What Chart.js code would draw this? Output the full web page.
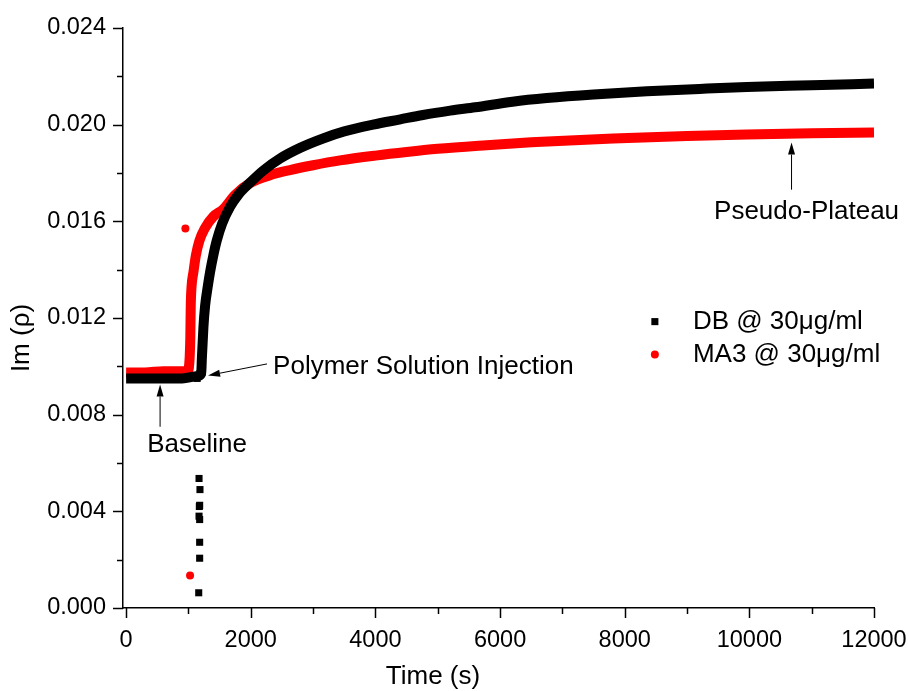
<!DOCTYPE html>
<html>
<head>
<meta charset="utf-8">
<script src="https://cdn.jsdelivr.net/npm/chart.js@4/dist/chart.umd.min.js"></script>
<style>
  html, body { margin: 0; padding: 0; background: #fff; }
  #wrap { width: 909px; height: 691px; position: relative; }
</style>
</head>
<body>
<div id="wrap"><canvas id="canvas" width="909" height="691"></canvas></div>
<script>
// values
var dbTime = [0, 300, 600, 900, 1150, 1205, 1215, 1240, 1267, 1310, 1347, 1400, 1454, 1540, 1668, 1800, 1989, 2200, 2470, 2800, 3160, 3500, 3961, 4400, 4763, 5200, 5600, 6200, 6750, 7500, 8356, 9200, 9960, 11000, 12000]
var dbIm = [0.0095, 0.0095, 0.0095, 0.0095, 0.0096, 0.0097, 0.0103, 0.0116, 0.0125, 0.0133, 0.0139, 0.0146, 0.0152, 0.0159, 0.0166, 0.0171, 0.0176, 0.0181, 0.0186, 0.01905, 0.01943, 0.01972, 0.0200, 0.02022, 0.0204, 0.02058, 0.02072, 0.02095, 0.0211, 0.02125, 0.02138, 0.02148, 0.02156, 0.02163, 0.0217]
var dbOutTime = [1140, 1185, 1170, 1185, 1180, 1175, 1170, 1180, 1180, 1180, 1165]
var dbOutIm = [0.0095, 0.0097, 0.00536, 0.0049, 0.00425, 0.0042, 0.0038, 0.00366, 0.00272, 0.00206, 0.00063]

var maTime = [0, 300, 600, 900, 990, 1005, 1020, 1030, 1037, 1050, 1080, 1120, 1176, 1260, 1400, 1556, 1750, 2000, 2300, 2630, 3000, 3432, 4000, 4500, 5000, 5785, 6500, 7813, 9000, 9960, 11000, 12000]
var maIm = [0.00975, 0.00975, 0.0098, 0.0098, 0.0098, 0.0099, 0.0104, 0.0112, 0.0125, 0.0133, 0.0139, 0.0146, 0.0152, 0.0157, 0.0162, 0.0165, 0.0171, 0.0176, 0.0179, 0.01812, 0.01832, 0.01852, 0.01872, 0.01887, 0.019, 0.01915, 0.01927, 0.01943, 0.01953, 0.01959, 0.01964, 0.01968]
var maOutTime = [951, 1026, 1026]
var maOutIm = [0.0157, 0.0102, 0.00134]

var seriesNames = ['DB @ 30\u03bcg/ml', 'MA3 @ 30\u03bcg/ml']
var xTicks = [0, 2000, 4000, 6000, 8000, 10000, 12000]
var yTicks = [0.000, 0.004, 0.008, 0.012, 0.016, 0.020, 0.024]

function pts(xs, ys){
  var out = []
  for (var i = 0; i < xs.length; i++) out.push({x: xs[i], y: ys[i]})
  return out
}

var FONT = 'Arial, "Liberation Sans", sans-serif'

function arrow(ctx, x1, y1, x2, y2){
  // line from (x1,y1) to tip (x2,y2)
  var a = Math.atan2(y2 - y1, x2 - x1)
  var len = 12, w = 3.5
  ctx.beginPath()
  ctx.moveTo(x1, y1)
  ctx.lineTo(x2 - len * Math.cos(a), y2 - len * Math.sin(a))
  ctx.stroke()
  ctx.beginPath()
  ctx.moveTo(x2, y2)
  ctx.lineTo(x2 - len * Math.cos(a) + w * Math.sin(a), y2 - len * Math.sin(a) - w * Math.cos(a))
  ctx.lineTo(x2 - len * Math.cos(a) - w * Math.sin(a), y2 - len * Math.sin(a) + w * Math.cos(a))
  ctx.closePath()
  ctx.fill()
}

var decor = {
  id: 'decor',
  afterDraw: function(chart){
    var ctx = chart.ctx, xs = chart.scales.x, ys = chart.scales.y, ca = chart.chartArea
    ctx.save()
    ctx.strokeStyle = '#000'
    ctx.fillStyle = '#000'
    ctx.lineWidth = 1.5
    // ticks: major + minor
    for (var v = 0; v <= 12000; v += 1000) {
      var px = Math.round(xs.getPixelForValue(v)) + 0.5
      ctx.beginPath(); ctx.moveTo(px, ca.bottom); ctx.lineTo(px, ca.bottom + (v % 2000 === 0 ? 10 : 6)); ctx.stroke()
    }
    for (var k = 0; k <= 12; k++) {
      var py = Math.round(ys.getPixelForValue(k * 0.002)) + 0.5
      ctx.beginPath(); ctx.moveTo(ca.left, py); ctx.lineTo(ca.left - (k % 2 === 0 ? 10 : 6), py); ctx.stroke()
    }

    // axis titles
    ctx.font = '26px ' + FONT
    ctx.textAlign = 'center'
    ctx.textBaseline = 'middle'
    ctx.fillText('Time (s)', 433, 677)
    ctx.save()
    ctx.translate(22, 338)
    ctx.rotate(-Math.PI / 2)
    ctx.fillText('Im (\u03c1)', 0, 0)
    ctx.restore()

    // annotations
    ctx.lineWidth = 1
    ctx.font = '26px ' + FONT
    arrow(ctx, xs.getPixelForValue(2261), ys.getPixelForValue(0.0101), xs.getPixelForValue(1315), ys.getPixelForValue(0.00962))
    ctx.textAlign = 'left'
    ctx.fillText('Polymer Solution Injection', xs.getPixelForValue(2358), ys.getPixelForValue(0.00999))
    arrow(ctx, xs.getPixelForValue(545), ys.getPixelForValue(0.0075), xs.getPixelForValue(545), ys.getPixelForValue(0.00925))
    ctx.textAlign = 'center'
    ctx.fillText('Baseline', xs.getPixelForValue(1139), ys.getPixelForValue(0.00676))
    arrow(ctx, xs.getPixelForValue(10677), ys.getPixelForValue(0.01731), xs.getPixelForValue(10677), ys.getPixelForValue(0.01926))
    ctx.fillText('Pseudo-Plateau', xs.getPixelForValue(10918), ys.getPixelForValue(0.01641))

    // legend
    ctx.textAlign = 'left'
    var lx = xs.getPixelForValue(8484), tx = xs.getPixelForValue(9094)
    var ly1 = ys.getPixelForValue(0.01185), ly2 = ys.getPixelForValue(0.01049)
    Chart.helpers.drawPoint(ctx, {pointStyle: 'rect', radius: 5, borderWidth: 0, rotation: 0}, lx, ly1)
    ctx.fillText(seriesNames[0], tx, ly1)
    ctx.fillStyle = '#ff0000'
    Chart.helpers.drawPoint(ctx, {pointStyle: 'circle', radius: 4, borderWidth: 0, rotation: 0}, lx, ly2)
    ctx.fillStyle = '#000'
    ctx.fillText(seriesNames[1], tx, ly2)
    ctx.restore()
  }
}

var ctx = document.getElementById('canvas')
var myChart = new Chart(ctx, {
  type: 'scatter',
  data: {
    datasets: [
      {label: seriesNames[0], data: pts(dbTime, dbIm), showLine: true, borderColor: '#000', borderWidth: 10, pointRadius: 0, cubicInterpolationMode: 'monotone', borderCapStyle: 'butt', borderJoinStyle: 'round'},
      {label: seriesNames[1], data: pts(maTime, maIm), showLine: true, borderColor: '#ff0000', borderWidth: 10, pointRadius: 0, cubicInterpolationMode: 'monotone', borderCapStyle: 'butt', borderJoinStyle: 'round'},
      {label: 'db-out', data: pts(dbOutTime, dbOutIm), pointStyle: 'rect', pointRadius: 5, backgroundColor: '#000', borderWidth: 0},
      {label: 'ma-out', data: pts(maOutTime, maOutIm), pointStyle: 'circle', pointRadius: 4, backgroundColor: '#ff0000', borderWidth: 0}
    ]
  },
  options: {
    responsive: false,
    animation: false,
    devicePixelRatio: 1,
    layout: {padding: {top: 28, right: 35, left: 0, bottom: 0}},
    plugins: {legend: {display: false}, tooltip: {enabled: false}},
    scales: {
      x: {
        type: 'linear', min: -50, max: 12000,
        afterBuildTicks: function(s){ s.ticks = xTicks.map(function(v){ return {value: v} }) },
        afterFit: function(s){ s.height = 83; s.paddingLeft = 0; s.paddingRight = 0 },
        grid: {display: false},
        border: {display: true, color: '#000', width: 1.5},
        ticks: {color: '#000', font: {family: FONT, size: 23.5}, padding: 10, maxRotation: 0,
          callback: function(v){ return String(v) }}
      },
      y: {
        type: 'linear', min: 0, max: 0.024,
        afterBuildTicks: function(s){ s.ticks = yTicks.map(function(v){ return {value: v} }) },
        afterFit: function(s){ s.width = 123; s.paddingTop = 0; s.paddingBottom = 0 },
        grid: {display: false},
        border: {display: true, color: '#000', width: 1.5},
        ticks: {color: '#000', font: {family: FONT, size: 23.5}, padding: 9,
          callback: function(v){ return v.toFixed(3) }}
      }
    }
  },
  plugins: [decor]
})
</script>
</body>
</html>
